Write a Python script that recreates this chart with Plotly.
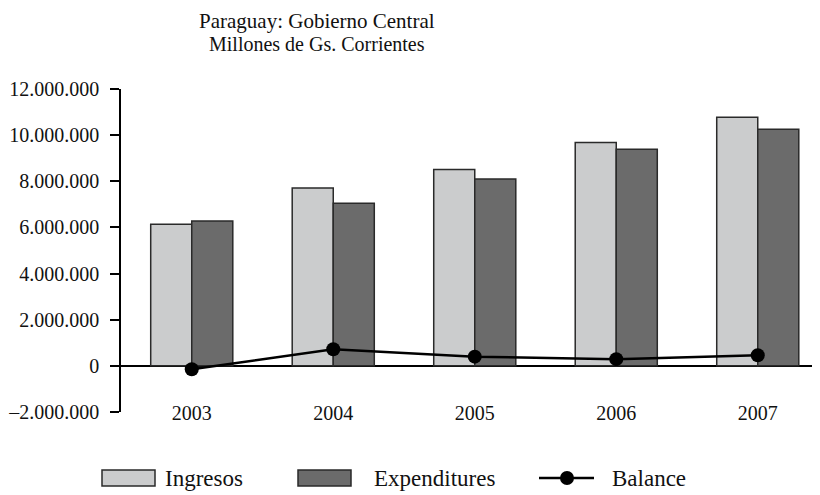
import plotly.graph_objects as go

# ---- data ----
years = ["2003", "2004", "2005", "2006", "2007"]
ingresos = [6140000, 7710000, 8510000, 9680000, 10780000]
expenditures = [6280000, 7050000, 8100000, 9390000, 10260000]
balance = [-150000, 720000, 400000, 290000, 460000]
y_tickvals = [-2000000, 0, 2000000, 4000000, 6000000, 8000000, 10000000, 12000000]
y_ticktext = ["–2.000.000", "0", "2.000.000", "4.000.000", "6.000.000",
              "8.000.000", "10.000.000", "12.000.000"]
title_text = "Paraguay: Gobierno Central"
subtitle_text = "Millones de Gs. Corrientes"
legend_names = ["Ingresos", "Expenditures", "Balance"]

# ---- styling ----
FONT = "Liberation Serif"
C_ING = "#cbcccd"
C_EXP = "#6b6b6b"
C_EDGE = "#2a2a2a"

OFF = 8  # page body margin
W, H = 820 - OFF, 495 - OFF
# plot area in page pixels: x 121..820, y 89..412
ML, MR, MT, MB = 121 - OFF, 0, 89 - OFF, 495 - 412
PW, PH = W - ML - MR, H - MT - MB


def px2x(px):
    return (px - OFF - ML) / PW


def py2y(py):
    return (H - MB - (py - OFF)) / PH


fig = go.Figure()
fig.add_trace(go.Bar(x=years, y=ingresos, name=legend_names[0],
                     marker=dict(color=C_ING, line=dict(color=C_EDGE, width=1.5)),
                     showlegend=False))
fig.add_trace(go.Bar(x=years, y=expenditures, name=legend_names[1],
                     marker=dict(color=C_EXP, line=dict(color=C_EDGE, width=1.5)),
                     showlegend=False))
fig.add_trace(go.Scatter(x=years, y=balance, name=legend_names[2], mode="lines+markers",
                         line=dict(color="black", width=2.5),
                         marker=dict(color="black", size=14),
                         showlegend=False))

fig.update_layout(
    width=W, height=H,
    margin=dict(l=ML, r=MR, t=MT, b=MB),
    paper_bgcolor="white", plot_bgcolor="white",
    font=dict(family=FONT, size=20, color="#111"),
    barmode="group", bargap=0.42, bargroupgap=0,
    showlegend=False,
    xaxis=dict(type="category", range=[-0.5, -0.5 + PW / 141.5],
               showline=False, showgrid=False, zeroline=False, ticks="",
               anchor="free", position=0.04,
               tickfont=dict(family=FONT, size=20, color="#111")),
    yaxis=dict(range=[-2000000, 12000000], tickvals=y_tickvals, ticktext=y_ticktext,
               showline=True, linecolor="black", linewidth=1.5,
               ticks="outside", ticklen=9, tickwidth=1.5, tickcolor="black",
               ticklabelstandoff=7,
               showgrid=False, zeroline=True, zerolinecolor="black", zerolinewidth=1.5,
               tickfont=dict(family=FONT, size=20, color="#111")),
    yaxis2=dict(overlaying="y", matches="y", side="left", showline=False,
                ticks="inside", ticklen=9, tickwidth=1.5, tickcolor="black",
                tickvals=y_tickvals, showticklabels=False, showgrid=False,
                zeroline=False),
)

# title
fig.add_annotation(text=title_text, xref="paper", yref="paper",
                   x=px2x(317), y=py2y(20.5), xanchor="center", yanchor="middle",
                   showarrow=False, font=dict(family=FONT, size=21, color="#111"))
fig.add_annotation(text=subtitle_text, xref="paper", yref="paper",
                   x=px2x(317), y=py2y(44.5), xanchor="center", yanchor="middle",
                   showarrow=False, font=dict(family=FONT, size=20, color="#111"))

# manual legend
LY = 478
shapes = []
for (x0, x1, col) in [(102, 155, C_ING), (298, 351, C_EXP)]:
    shapes.append(dict(type="rect", xref="paper", yref="paper",
                       x0=px2x(x0), x1=px2x(x1), y0=py2y(LY + 8), y1=py2y(LY - 8),
                       fillcolor=col, line=dict(color=C_EDGE, width=1.5)))
shapes.append(dict(type="line", xref="paper", yref="paper",
                   x0=px2x(539), x1=px2x(594), y0=py2y(LY), y1=py2y(LY),
                   line=dict(color="black", width=2.5)))
shapes.append(dict(type="circle", xref="paper", yref="paper",
                   x0=px2x(567 - 7), x1=px2x(567 + 7), y0=py2y(LY + 7), y1=py2y(LY - 7),
                   fillcolor="black", line=dict(color="black", width=0)))
fig.update_layout(shapes=shapes)
for name, xl in zip(legend_names, [163, 372, 610]):
    fig.add_annotation(text=name, xref="paper", yref="paper",
                       x=px2x(xl), y=py2y(LY), xanchor="left", yanchor="middle",
                       showarrow=False, font=dict(family=FONT, size=23, color="#111"))

fig.write_html("out.html")
